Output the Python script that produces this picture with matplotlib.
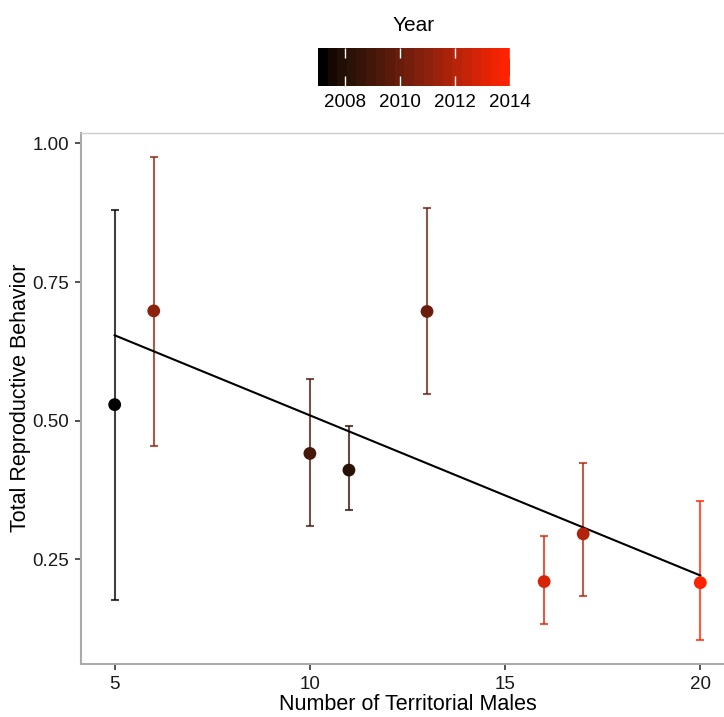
import numpy as np
import matplotlib
matplotlib.use("Agg")
import matplotlib.pyplot as plt
from matplotlib.colors import ListedColormap, Normalize, to_rgb
from matplotlib.cm import ScalarMappable

plt.rcParams['font.family'] = ['Liberation Sans', 'DejaVu Sans']

# data
males = [5, 6, 10, 11, 13, 16, 17, 20]
year = [2007, 2011, 2009, 2008, 2010, 2013, 2012, 2014]
behav = [0.529, 0.698, 0.441, 0.411, 0.697, 0.210, 0.296, 0.208]
upper = [0.880, 0.976, 0.575, 0.491, 0.884, 0.293, 0.423, 0.356]
lower = [0.177, 0.455, 0.310, 0.339, 0.548, 0.133, 0.184, 0.105]

fit_x = [5, 20]
fit_y = [0.654, 0.221]

cbar_ticks = [2008, 2010, 2012, 2014]


def rgb_to_lab(c):
    c = np.asarray(to_rgb(c))
    lin = np.where(c <= 0.04045, c / 12.92, ((c + 0.055) / 1.055) ** 2.4)
    X = (0.4124 * lin[0] + 0.3576 * lin[1] + 0.1805 * lin[2]) / 0.95047
    Y = 0.2126 * lin[0] + 0.7152 * lin[1] + 0.0722 * lin[2]
    Z = (0.0193 * lin[0] + 0.1192 * lin[1] + 0.9505 * lin[2]) / 1.08883
    f = lambda t: np.where(t > (6 / 29) ** 3, np.cbrt(t), t / (3 * (6 / 29) ** 2) + 4 / 29)
    return np.array([116 * f(Y) - 16, 500 * (f(X) - f(Y)), 200 * (f(Y) - f(Z))])


def lab_to_rgb(L, a, b):
    fy = (L + 16) / 116
    fx = fy + a / 500
    fz = fy - b / 200
    finv = lambda t: np.where(t > 6 / 29, t ** 3, 3 * (6 / 29) ** 2 * (t - 4 / 29))
    X = 0.95047 * finv(fx)
    Y = finv(fy)
    Z = 1.08883 * finv(fz)
    r = 3.2406 * X - 1.5372 * Y - 0.4986 * Z
    g = -0.9689 * X + 1.8758 * Y + 0.0415 * Z
    bb = 0.0557 * X - 0.2040 * Y + 1.0570 * Z
    rgb = np.clip(np.stack([r, g, bb], -1), 0, 1)
    return np.where(rgb <= 0.0031308, 12.92 * rgb, 1.055 * rgb ** (1 / 2.4) - 0.055)


def black_red(n, high='#ff2200'):
    hi = rgb_to_lab(high)
    t = np.linspace(0, 1, n)
    return ListedColormap(lab_to_rgb(hi[0] * t, hi[1] * t, hi[2] * t))


cmap = black_red(256)
norm = Normalize(2007, 2014)

fig = plt.figure(figsize=(7.24, 7.17), dpi=100)
ax = fig.add_axes([81.3 / 724, 53 / 717, 652.4 / 724, 531.5 / 717])

for x, y, lo, hi, yr in zip(males, behav, lower, upper, year):
    ax.errorbar([x], [y], yerr=[[y - lo], [hi - y]], fmt='none',
                ecolor=cmap(norm(yr)), alpha=0.75, elinewidth=1.5,
                capsize=2.8, capthick=1.5, zorder=2)

ax.plot(fit_x, fit_y, color='black', lw=1.5, zorder=3)
ax.scatter(males, behav, c=year, cmap=cmap, norm=norm, s=85,
           edgecolors='none', zorder=4)

ax.set_xlim(4.145, 20.855)
ax.set_ylim(0.0614, 1.0196)
ax.set_xticks([5, 10, 15, 20])
ax.set_yticks([0.25, 0.50, 0.75, 1.00])
ax.set_yticklabels(['%.2f' % v for v in [0.25, 0.50, 0.75, 1.00]])
ax.tick_params(labelsize=13.5, length=4.5, width=1.2, color='#333333',
               labelcolor='#1a1a1a', pad=4)
for side in ['left', 'bottom']:
    ax.spines[side].set_color('#aaaaaa')
    ax.spines[side].set_linewidth(1.5)
ax.spines['top'].set_color('#cccccc')
ax.spines['top'].set_linewidth(1.0)
ax.spines['right'].set_visible(False)
ax.set_xlabel('Number of Territorial Males', fontsize=15.5, labelpad=1)
ax.set_ylabel('Total Reproductive Behavior', fontsize=15.5, labelpad=1.5)

# colour bar legend
cax = fig.add_axes([318 / 724, (717 - 86) / 717, 192 / 724, 38 / 717])
sm = ScalarMappable(norm=norm, cmap=black_red(20))
cb = fig.colorbar(sm, cax=cax, orientation='horizontal', ticks=cbar_ticks)
cb.outline.set_visible(False)
cax.tick_params(direction='in', top=True, bottom=True, color='white',
                length=7, width=1, labelsize=13.5, pad=6)
cax.set_title('Year', fontsize=15, pad=12)

fig.savefig('out.png', dpi=100)
